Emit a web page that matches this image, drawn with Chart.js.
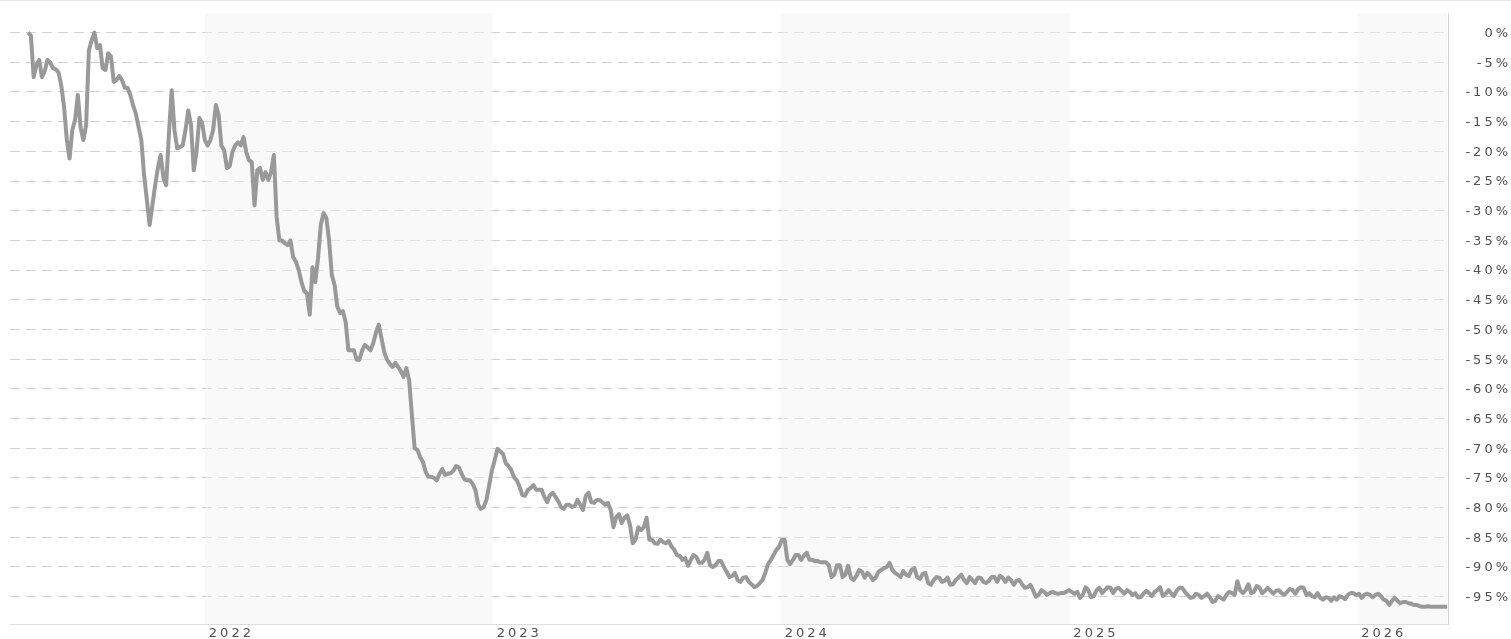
<!DOCTYPE html>
<html>
<head>
<meta charset="utf-8">
<script src="https://cdn.jsdelivr.net/npm/chart.js@4.4.1/dist/chart.umd.min.js"></script>
<style>
  html, body { margin: 0; padding: 0; background: #ffffff; }
  #wrap { width: 1511px; height: 639px; position: relative; }
  canvas { display: block; }
</style>
</head>
<body>
<div id="wrap"><canvas id="c" width="1511" height="639"></canvas></div>
<script>
// ---- data (half-weekly readings of the drawdown, in %) ----
const startDate = '2021-05-22';
const stepDays = 3.5;
const drawdown = [
  0.0, -0.5, -7.5, -5.5, -4.6, -7.5, -6.5, -4.6, -5.0, -6.0, -6.2, -6.7, -8.9, -12.5, -18.0, -21.2, -16.4, -14.7, -10.5, -16.0,
  -18.1, -15.6, -3.0, -1.3, 0.0, -2.6, -2.1, -6.0, -6.3, -3.5, -4.0, -8.3, -8.0, -7.3, -8.0, -9.3, -9.3, -10.5, -12.2, -13.6,
  -15.9, -18.1, -24.0, -28.2, -32.4, -29.1, -25.7, -22.8, -20.6, -24.5, -25.7, -17.0, -9.7, -16.4, -19.5, -19.3, -19.0, -16.4, -13.1, -15.6,
  -23.2, -20.0, -14.4, -15.2, -18.1, -19.0, -18.1, -16.4, -12.2, -13.9, -19.0, -19.8, -22.8, -22.5, -20.1, -19.0, -18.5, -19.0, -17.6, -20.1,
  -21.5, -21.8, -29.1, -23.2, -22.8, -24.8, -23.5, -24.8, -23.5, -20.6, -31.0, -35.0, -35.0, -35.5, -35.8, -35.0, -37.8, -38.6, -40.0, -42.0,
  -43.5, -43.9, -47.5, -39.5, -42.0, -38.0, -32.4, -30.4, -31.2, -35.0, -40.8, -42.5, -46.2, -47.2, -46.9, -48.7, -53.5, -53.5, -53.5, -55.1,
  -55.1, -53.5, -52.6, -53.0, -53.5, -52.3, -50.5, -49.2, -51.5, -53.8, -55.1, -55.8, -56.3, -55.6, -56.3, -57.0, -58.0, -56.5, -58.5, -64.4,
  -70.0, -70.3, -71.5, -72.3, -74.0, -74.8, -74.8, -75.0, -75.4, -74.3, -73.5, -74.5, -74.3, -74.2, -73.8, -73.0, -73.2, -74.3, -75.2, -75.4,
  -75.4, -76.0, -77.0, -79.5, -80.2, -79.9, -78.7, -76.2, -73.7, -72.0, -70.1, -70.5, -71.0, -72.5, -73.0, -73.7, -74.9, -75.4, -76.5, -77.9,
  -78.0, -77.0, -76.7, -76.2, -77.0, -77.0, -77.0, -78.2, -79.1, -77.9, -77.5, -78.2, -78.9, -79.9, -80.2, -79.5, -79.5, -79.9, -79.7, -78.7,
  -79.5, -80.4, -78.0, -77.5, -79.1, -79.2, -78.7, -78.7, -79.1, -79.5, -79.2, -80.4, -83.3, -81.6, -81.1, -82.6, -81.7, -81.3, -82.9, -86.0,
  -85.4, -83.3, -83.8, -83.3, -81.7, -85.4, -85.4, -86.0, -86.1, -85.4, -85.8, -86.0, -85.6, -86.5, -87.1, -88.0, -88.1, -88.8, -88.5, -89.8,
  -88.8, -88.0, -88.3, -89.3, -89.3, -88.8, -87.6, -89.7, -90.0, -89.7, -89.0, -89.0, -90.0, -90.8, -91.7, -91.5, -91.0, -92.2, -92.5, -91.8,
  -91.7, -92.5, -92.9, -93.4, -93.2, -92.7, -92.2, -91.0, -89.5, -88.8, -88.0, -87.1, -86.6, -85.4, -85.4, -88.8, -89.5, -88.8, -88.0, -88.0,
  -88.8, -88.1, -87.6, -88.8, -88.8, -89.0, -89.0, -89.2, -89.2, -89.2, -89.7, -91.7, -91.3, -89.7, -89.7, -91.7, -91.3, -89.8, -91.8, -92.2,
  -91.5, -90.5, -90.8, -91.8, -91.0, -91.5, -92.2, -91.8, -90.8, -90.5, -90.2, -90.0, -89.3, -90.5, -91.0, -91.3, -91.7, -90.7, -91.3, -91.5,
  -90.5, -90.2, -91.7, -92.0, -91.2, -91.0, -92.7, -93.0, -92.2, -91.7, -91.8, -92.5, -92.3, -91.8, -93.0, -92.9, -92.2, -91.8, -91.3, -92.2,
  -92.7, -91.7, -92.2, -92.7, -91.8, -91.8, -92.5, -92.7, -92.3, -91.7, -91.7, -92.5, -91.5, -91.8, -92.5, -91.8, -92.2, -93.0, -92.3, -92.2,
  -92.9, -93.5, -93.4, -93.0, -93.9, -95.0, -94.7, -93.9, -94.2, -94.7, -94.4, -94.2, -94.4, -94.5, -94.4, -94.4, -94.2, -93.9, -94.2, -94.5,
  -94.2, -95.2, -94.7, -93.4, -93.9, -95.1, -94.9, -93.9, -93.5, -94.4, -93.9, -93.4, -93.5, -94.4, -93.7, -93.5, -94.0, -94.5, -93.9, -94.2,
  -94.7, -94.4, -95.1, -95.1, -94.5, -94.0, -94.4, -94.9, -94.2, -93.9, -93.4, -94.9, -94.5, -93.9, -94.4, -94.9, -94.0, -93.5, -93.5, -94.2,
  -94.7, -95.2, -95.1, -94.5, -94.7, -95.2, -94.9, -94.5, -95.1, -95.9, -95.7, -94.9, -95.2, -95.5, -94.7, -94.2, -94.4, -94.7, -92.4, -93.9,
  -94.4, -93.9, -92.9, -94.4, -94.2, -93.2, -93.5, -94.4, -94.0, -93.5, -94.0, -94.5, -94.0, -93.9, -94.4, -94.7, -94.2, -93.7, -93.9, -94.5,
  -93.7, -93.4, -93.5, -94.7, -94.4, -94.9, -95.1, -94.4, -95.2, -95.5, -95.1, -95.2, -95.7, -95.1, -95.5, -94.9, -95.1, -95.4, -94.7, -94.4,
  -94.4, -94.7, -94.5, -95.2, -94.7, -94.5, -94.7, -95.1, -94.7, -94.5, -94.9, -95.5, -95.7, -96.4, -95.7, -95.2, -95.7, -96.1, -95.9, -95.9,
  -96.1, -96.2, -96.4, -96.4, -96.6, -96.7, -96.7, -96.6, -96.7, -96.7, -96.7, -96.7, -96.7, -96.7, -96.7
];
const yearTicks = [2022, 2023, 2024, 2025, 2026];
const shadedYears = [2022, 2024, 2026];
const yTickValues = [0, -5, -10, -15, -20, -25, -30, -35, -40, -45, -50, -55, -60, -65, -70, -75, -80, -85, -90, -95];
const axisStart = '2021-04-29';
const axisEnd = '2026-04-26';
const yMin = -99.6;
const yMax = 3.3;

// ---- build ----
const DAY = 86400000;
const t0 = Date.parse(startDate + 'T00:00:00Z');
const points = drawdown.map((v, i) => ({ x: t0 + i * stepDays * DAY, y: v }));
const yearStart = y => Date.UTC(y, 0, 1);

const LETTER_SPACING = '3px';
const spacingPlugin = {
  id: 'spacing',
  beforeUpdate(chart) { try { chart.ctx.letterSpacing = LETTER_SPACING; } catch (e) {} },
  beforeDraw(chart) { try { chart.ctx.letterSpacing = LETTER_SPACING; } catch (e) {} }
};

const bandPlugin = {
  id: 'bands',
  beforeDatasetsDraw(chart) {
    const { ctx, chartArea, scales } = chart;
    const xs = scales.x;
    ctx.save();
    ctx.fillStyle = 'rgba(243,243,243,0.5)';
    shadedYears.forEach(y => {
      let a = xs.getPixelForValue(yearStart(y));
      let b = xs.getPixelForValue(yearStart(y + 1));
      a = Math.max(a, chartArea.left);
      b = Math.min(b, chartArea.right - 1);
      if (b > a) ctx.fillRect(a, chartArea.top, b - a, chartArea.bottom - chartArea.top);
    });
    ctx.restore();
  },
  afterDraw(chart) {
    const { ctx, width } = chart;
    ctx.save();
    ctx.strokeStyle = '#e6e6e6';
    ctx.lineWidth = 1;
    ctx.beginPath();
    ctx.moveTo(0, 0.5);
    ctx.lineTo(width, 0.5);
    ctx.stroke();
    ctx.restore();
  }
};

const tickFont = { family: '"DejaVu Sans", Verdana, sans-serif', size: 13 };

new Chart(document.getElementById('c'), {
  type: 'line',
  data: {
    datasets: [{
      data: points,
      borderColor: '#999999',
      borderWidth: 4,
      pointRadius: 0,
      tension: 0,
      fill: false,
      borderJoinStyle: 'round'
    }]
  },
  options: {
    responsive: false,
    animation: false,
    devicePixelRatio: 1,
    layout: { padding: { left: 10, top: 13, right: 0, bottom: 0 } },
    plugins: { legend: { display: false }, tooltip: { enabled: false } },
    scales: {
      x: {
        type: 'linear',
        min: Date.parse(axisStart + 'T00:00:00Z'),
        max: Date.parse(axisEnd + 'T00:00:00Z'),
        afterBuildTicks(scale) { scale.ticks = yearTicks.map(y => ({ value: yearStart(y) })); },
        afterFit(scale) { scale.height = 15; scale.paddingLeft = 0; scale.paddingRight = 0; },
        grid: { display: false, drawTicks: false },
        border: { display: true, color: '#dddddd', width: 1 },
        ticks: {
          autoSkip: false,
          maxRotation: 0,
          align: 'start',
          labelOffset: 4,
          padding: 2,
          color: '#505050',
          font: tickFont,
          callback: v => String(new Date(v).getUTCFullYear())
        }
      },
      y: {
        position: 'right',
        min: yMin,
        max: yMax,
        afterBuildTicks(scale) { scale.ticks = yTickValues.map(v => ({ value: v })); },
        afterFit(scale) { scale.width = 63; scale.paddingTop = 0; scale.paddingBottom = 0; },
        grid: { display: true, color: '#d2d2d2', lineWidth: 1, drawTicks: false },
        border: { display: true, color: '#d4d4d4', width: 1, dash: [10, 6] },
        ticks: {
          crossAlign: 'far',
          padding: 12,
          labelOffset: 1,
          color: '#505050',
          font: tickFont,
          callback: v => v + '%'
        }
      }
    }
  },
  plugins: [spacingPlugin, bandPlugin]
});
</script>
</body>
</html>
